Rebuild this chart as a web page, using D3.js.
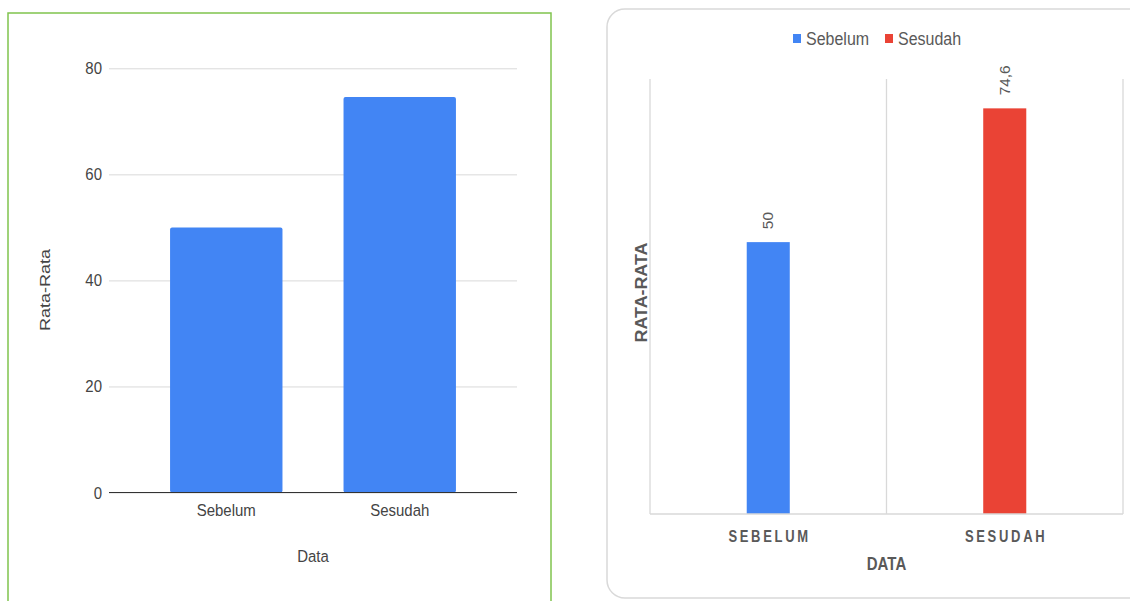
<!DOCTYPE html>
<html><head><meta charset="utf-8">
<script src="https://cdn.jsdelivr.net/npm/d3@7"></script>
<style>html,body{margin:0;padding:0;background:#fff;overflow:hidden}svg{display:block}</style>
</head><body>
<svg id="c" width="1130" height="601"></svg>
<script>
// ---- data ----
const categories = ["Sebelum", "Sesudah"];
const values = [50, 74.6];
const valueLabels = ["50", "74,6"];
const yTicks = [0, 20, 40, 60, 80];
const xTitle = "Data";
const yTitle = "Rata-Rata";
const seriesNames = ["Sebelum", "Sesudah"];

const FONT = "'Liberation Sans', Arial, sans-serif";
const svg = d3.select("#c");

// ================= LEFT PANEL =================
svg.append("rect").attr("x", 8).attr("y", 13).attr("width", 543).attr("height", 640)
  .attr("fill", "none").attr("stroke", "#80c34e").attr("stroke-width", 1.5);

const L = {left: 109, right: 517, top: 68.3, bottom: 492.5};
const yL = d3.scaleLinear().domain([0, 80]).range([L.bottom, L.top]);
const xL = d3.scaleBand().domain(categories).range([L.left, L.right])
  .paddingInner(0.352).paddingOuter(0.352);

const gy = svg.append("g").attr("transform", `translate(${L.left},0)`)
  .call(d3.axisLeft(yL).tickValues(yTicks).tickSize(-(L.right - L.left)).tickPadding(7).tickFormat(d3.format("d")));
gy.select(".domain").remove();
gy.selectAll(".tick line").attr("stroke", "#d9d9d9").attr("stroke-width", 1);
gy.selectAll(".tick text").attr("fill", "#444").style("font", `15px ${FONT}`)
  .attr("transform", "scale(1,1.15)");

svg.append("g").selectAll("rect").data(values).join("rect")
  .attr("x", (d, i) => xL(categories[i]))
  .attr("width", xL.bandwidth())
  .attr("y", d => yL(d))
  .attr("height", d => yL(0) - yL(d))
  .attr("rx", 2)
  .attr("fill", "#4285f4");

svg.append("line").attr("x1", L.left).attr("x2", L.right)
  .attr("y1", yL(0)).attr("y2", yL(0)).attr("stroke", "#333").attr("stroke-width", 1.2);

const gxL = svg.append("g").attr("transform", `translate(0,${L.bottom})`)
  .call(d3.axisBottom(xL).tickSize(0).tickPadding(9.5));
gxL.select(".domain").remove();
gxL.selectAll(".tick text").attr("fill", "#444").style("font", `15px ${FONT}`)
  .attr("transform", "scale(1,1.15)");

svg.append("text").attr("transform", "translate(313,562.3) scale(1,1.15)")
  .attr("text-anchor", "middle").attr("fill", "#444").style("font", `15px ${FONT}`).text(xTitle);
svg.append("text").attr("transform", "translate(49.5,290) rotate(-90) scale(1.2,1)")
  .attr("text-anchor", "middle").attr("fill", "#444").style("font", `15px ${FONT}`).text(yTitle);

// ================= RIGHT PANEL =================
svg.append("rect").attr("x", 607).attr("y", 9).attr("width", 640).attr("height", 589).attr("rx", 18)
  .attr("fill", "none").attr("stroke", "#d9d9d9").attr("stroke-width", 1.5);

const R = {left: 650, right: 1123, top: 79, bottom: 514};
const yR = d3.scaleLinear().domain([0, 80]).range([R.bottom, R.top]);
const xRcat = d3.scaleBand().domain(categories).range([R.left, R.right]).padding(0);
const xR = d3.scaleBand().domain(categories).range([R.left, R.right])
  .paddingInner(0.818).paddingOuter(0.409);
const colorsR = d3.scaleOrdinal().domain(categories).range(["#4285f4", "#ea4335"]);

// vertical category gridlines
const bounds = categories.map(c => xRcat(c)).concat([xRcat(categories[categories.length - 1]) + xRcat.bandwidth()]);
svg.append("g").selectAll("line").data(bounds).join("line")
  .attr("x1", d => d).attr("x2", d => d).attr("y1", R.top).attr("y2", R.bottom)
  .attr("stroke", "#d9d9d9").attr("stroke-width", 1.3);

svg.append("g").selectAll("rect").data(values).join("rect")
  .attr("x", (d, i) => xR(categories[i]))
  .attr("width", xR.bandwidth())
  .attr("y", d => yR(d))
  .attr("height", d => yR(0) - yR(d))
  .attr("fill", (d, i) => colorsR(categories[i]));

svg.append("line").attr("x1", R.left).attr("x2", R.right)
  .attr("y1", R.bottom).attr("y2", R.bottom).attr("stroke", "#d9d9d9").attr("stroke-width", 1.5);

// data labels
svg.append("g").selectAll("text").data(values).join("text")
  .attr("transform", (d, i) => `translate(${xR(categories[i]) + xR.bandwidth() / 2 + 5},${yR(d) - 13}) rotate(-90) scale(1.1,1)`)
  .attr("fill", "#595959").style("font", `14px ${FONT}`)
  .text((d, i) => valueLabels[i]);

// category labels
svg.append("g").selectAll("text").data(categories).join("text")
  .attr("transform", c => `translate(${xR(c) + xR.bandwidth() / 2 + 1.35},541.8) scale(1,1.25)`)
  .attr("text-anchor", "middle").attr("fill", "#595959")
  .style("font", `bold 13px ${FONT}`).style("letter-spacing", "2.7px")
  .text(c => c.toUpperCase());

svg.append("text").attr("transform", "translate(886.5,569.5) scale(1,1.26)")
  .attr("text-anchor", "middle").attr("fill", "#595959").style("font", `bold 15px ${FONT}`)
  .text(xTitle.toUpperCase());
svg.append("text").attr("transform", "translate(646.5,292.5) rotate(-90) scale(1.05,1)")
  .attr("text-anchor", "middle").attr("fill", "#595959").style("font", `bold 17px ${FONT}`)
  .text(yTitle.toUpperCase());

// legend
const legendX = [793, 885];
const lg = svg.append("g").selectAll("g").data(seriesNames).join("g")
  .attr("transform", (d, i) => `translate(${legendX[i]},0)`);
lg.append("rect").attr("x", 0).attr("y", 34).attr("width", 8).attr("height", 9)
  .attr("fill", d => colorsR(d));
lg.append("text").attr("transform", "translate(13,45) scale(1,1.12)")
  .attr("fill", "#595959").style("font", `16px ${FONT}`).text(d => d);
</script>
</body></html>
